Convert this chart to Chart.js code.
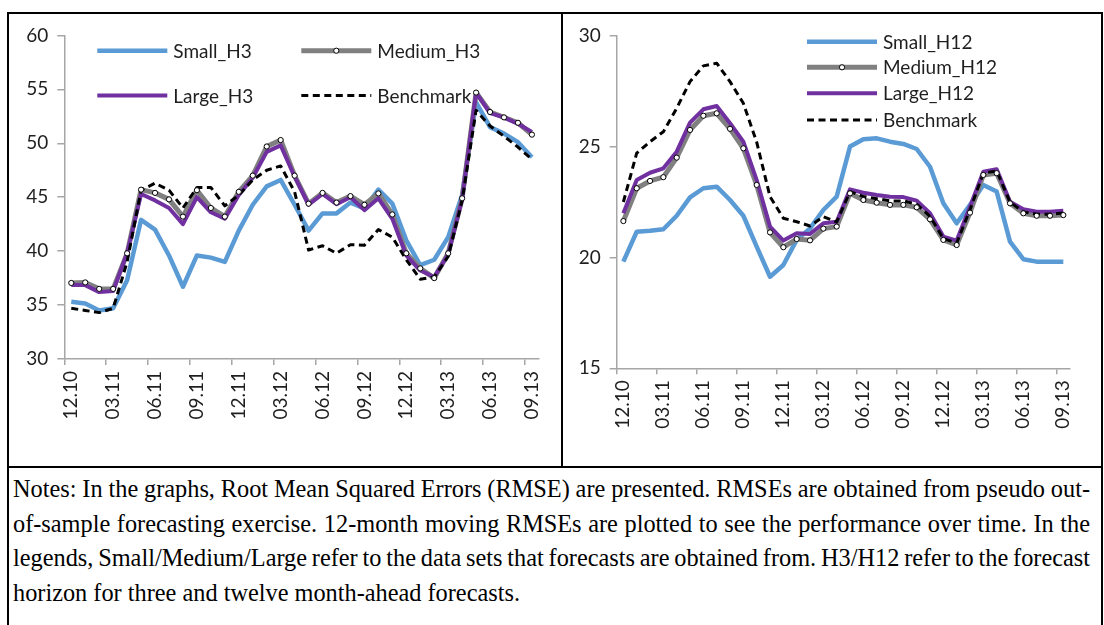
<!DOCTYPE html>
<html>
<head>
<meta charset="utf-8">
<title>RMSE over time</title>
<script src="https://cdn.jsdelivr.net/npm/chart.js@4.4.1/dist/chart.umd.min.js"></script>
<style>
  html, body { margin: 0; padding: 0; background: #fff; }
  #page { position: relative; width: 1104px; height: 625px; overflow: hidden; background: #fff; }
  .rule { position: absolute; background: #000; }
  canvas { position: absolute; }
  .note {
    position: absolute; left: 13px;
    font-family: 'Liberation Serif', 'Times New Roman', serif;
    font-size: 26px; line-height: 28px; white-space: nowrap; color: #000;
    transform-origin: 0 50%;
  }
</style>
</head>
<body>
<div id="page">
  <div class="rule" style="left:7px; top:12px; width:1096px; height:2px;"></div>
  <div class="rule" style="left:7px; top:12px; width:2px; height:613px;"></div>
  <div class="rule" style="left:561px; top:12px; width:2px; height:456px;"></div>
  <div class="rule" style="left:1101px; top:12px; width:2px; height:613px;"></div>
  <div class="rule" style="left:7px; top:466px; width:1096px; height:2px;"></div>
  <canvas id="chartH3" width="552" height="451" style="left:9px; top:15px;"></canvas>
  <canvas id="chartH12" width="536" height="451" style="left:564px; top:15px;"></canvas>
</div>
<script>
// months from Dec 2010 to Sep 2013
const months = ['12.10', '01.11', '02.11', '03.11', '04.11', '05.11', '06.11', '07.11', '08.11', '09.11',
  '10.11', '11.11', '12.11', '01.12', '02.12', '03.12', '04.12', '05.12', '06.12', '07.12', '08.12', '09.12',
  '10.12', '11.12', '12.12', '01.13', '02.13', '03.13', '04.13', '05.13', '06.13', '07.13', '08.13', '09.13'];

// 3-month-ahead RMSE
const smallH3 = [35.3, 35.15, 34.5, 34.7, 37.3, 42.9, 42.0, 39.6, 36.7, 39.6, 39.4, 39.0, 41.9, 44.3, 46.0, 46.6,
  44.3, 41.9, 43.5, 43.5, 44.5, 43.95, 45.7, 44.4, 41.0, 38.7, 39.2, 41.3, 45.2, 53.8, 51.5, 50.9, 50.1, 48.7];
const mediumH3 = [37.05, 37.1, 36.5, 36.5, 39.8, 45.7, 45.4, 44.8, 43.2, 45.65, 44.0, 43.2, 45.5, 47.0, 49.7, 50.3,
  47.0, 44.4, 45.4, 44.5, 45.1, 44.3, 45.35, 43.4, 39.8, 38.4, 37.5, 39.8, 44.9, 54.7, 52.9, 52.4, 51.9, 50.8];
const largeH3 = [36.85, 36.85, 36.2, 36.3, 39.8, 45.3, 44.7, 44.0, 42.5, 45.0, 43.6, 43.0, 45.2, 46.8, 49.2, 49.8,
  46.9, 44.3, 45.3, 44.35, 45.0, 43.8, 44.9, 43.0, 39.6, 38.2, 37.6, 39.7, 44.8, 54.7, 52.8, 52.4, 51.8, 51.05];
const benchH3 = [34.7, 34.5, 34.3, 34.7, 39.0, 45.65, 46.3, 45.65, 44.0, 45.9, 45.9, 44.2, 45.2, 46.6, 47.5, 47.9,
  45.5, 40.1, 40.5, 39.8, 40.6, 40.55, 42.0, 41.3, 39.2, 37.4, 37.6, 39.5, 44.7, 53.05, 51.6, 50.65, 49.65, 48.5];

// 12-month-ahead RMSE
const smallH12 = [19.81, 21.16, 21.2, 21.27, 21.88, 22.71, 23.12, 23.19, 22.59, 21.88, 20.49, 19.13, 19.66, 20.79,
  21.31, 22.14, 22.74, 25.0, 25.33, 25.37, 25.22, 25.12, 24.89, 24.09, 22.44, 21.54, 22.37, 23.27, 22.97, 20.71,
  19.92, 19.81, 19.81, 19.81];
const mediumH12 = [21.64, 23.12, 23.45, 23.62, 24.5, 25.75, 26.39, 26.5, 25.8, 24.92, 23.27, 21.13, 20.46, 20.83,
  20.77, 21.3, 21.39, 22.89, 22.59, 22.47, 22.37, 22.37, 22.26, 21.72, 20.79, 20.56, 22.02, 23.72, 23.8, 22.44,
  21.99, 21.88, 21.88, 21.91];
const largeH12 = [21.99, 23.49, 23.82, 24.02, 24.77, 26.08, 26.68, 26.83, 26.05, 25.22, 23.49, 21.39, 20.76, 21.09,
  21.06, 21.54, 21.61, 23.07, 22.92, 22.82, 22.74, 22.72, 22.56, 21.99, 20.94, 20.76, 22.29, 23.87, 23.98, 22.51,
  22.17, 22.06, 22.06, 22.11];
const benchH12 = [22.5, 24.7, 25.22, 25.67, 26.73, 27.93, 28.64, 28.76, 27.93, 26.95, 25.2, 22.74, 21.77, 21.61,
  21.42, 21.84, 21.6, 22.97, 22.75, 22.65, 22.55, 22.55, 22.4, 21.85, 20.85, 20.65, 22.15, 23.8, 23.9, 22.5,
  22.05, 21.95, 21.95, 22.0];

const h3Names = ['Small_H3', 'Medium_H3', 'Large_H3', 'Benchmark'];
const h12Names = ['Small_H12', 'Medium_H12', 'Large_H12', 'Benchmark'];

const noteLines = [
  'Notes: In the graphs, Root Mean Squared Errors (RMSE) are presented. RMSEs are obtained from pseudo out-',
  'of-sample forecasting exercise. 12-month moving RMSEs are plotted to see the performance over time. In the',
  'legends, Small/Medium/Large refer to the data sets that forecasts are obtained from. H3/H12 refer to the forecast',
  'horizon for three and twelve month-ahead forecasts.'
];

const axisGrey = '#a6a6a6';
const textColor = '#1f1f1f';
const tickFont = { family: 'Lato, "Open Sans", sans-serif', size: 19 };

// legend drawn inside the plot area, positions relative to chartArea
const legendBox = {
  id: 'legendBox',
  afterDraw(chart, args, o) {
    const { ctx, chartArea } = chart;
    o.items.forEach(item => {
      const ds = chart.data.datasets[item.dataset];
      const x0 = chartArea.left + item.x;
      const y = chartArea.top + item.y;
      ctx.save();
      ctx.strokeStyle = ds.borderColor;
      ctx.lineWidth = ds.borderWidth;
      ctx.setLineDash(ds.borderDash || []);
      ctx.beginPath();
      ctx.moveTo(x0, y);
      ctx.lineTo(x0 + o.lineLength, y);
      ctx.stroke();
      if (item.marker) {
        ctx.setLineDash([]);
        ctx.beginPath();
        ctx.arc(x0 + o.lineLength / 2, y, 2.6, 0, Math.PI * 2);
        ctx.fillStyle = '#fff';
        ctx.fill();
        ctx.lineWidth = 1;
        ctx.strokeStyle = '#000';
        ctx.stroke();
      }
      ctx.fillStyle = textColor;
      ctx.font = `${tickFont.size}px ${tickFont.family}`;
      ctx.textBaseline = 'middle';
      ctx.fillText(ds.label, x0 + o.lineLength + o.gap, y + 1);
      ctx.restore();
    });
  }
};

function makeChart(canvasId, names, series, yRange, frame, legendItems) {
  const [small, medium, large, bench] = series;
  return new Chart(document.getElementById(canvasId), {
    type: 'line',
    data: {
      labels: months,
      datasets: [
        { label: names[0], data: small, borderColor: '#5b9bd5', borderWidth: 4.5, pointRadius: 0, order: 5 },
        { label: names[1], data: medium, borderColor: '#808080', borderWidth: 5, pointRadius: 0, order: 4 },
        { label: names[2], data: large, borderColor: '#7030a0', borderWidth: 4, pointRadius: 0, order: 3 },
        { label: names[3], data: bench, borderColor: '#000', borderWidth: 3, borderDash: [7, 4.5],
          pointRadius: 0, order: 2 },
        // markers of the medium series sit above every line
        { label: names[1], data: medium, showLine: false, pointRadius: 2.6, pointBorderWidth: 1,
          pointBackgroundColor: '#fff', pointBorderColor: '#000', order: 1 }
      ]
    },
    options: {
      responsive: false,
      animation: false,
      layout: { padding: { top: frame.top, right: frame.right, left: 0, bottom: 0 } },
      elements: { line: { tension: 0, borderJoinStyle: 'round', borderCapStyle: 'butt' } },
      scales: {
        x: {
          type: 'category',
          offset: true,
          grid: {
            offset: true,
            drawOnChartArea: false,
            tickLength: 6,
            lineWidth: 1.5,
            color: c => (c.index % 3 === 0 ? axisGrey : 'rgba(0,0,0,0)')
          },
          border: { color: axisGrey, width: 1.5 },
          ticks: {
            autoSkip: false,
            minRotation: 90,
            maxRotation: 90,
            padding: 6,
            color: textColor,
            font: tickFont,
            callback: (v, i) => (i % 3 === 0 ? months[i] : '')
          },
          afterFit: s => { s.height = frame.xHeight; }
        },
        y: {
          min: yRange[0],
          max: yRange[1],
          grid: { drawOnChartArea: false, tickLength: 7, lineWidth: 1.5, color: axisGrey },
          border: { color: axisGrey, width: 1.5 },
          ticks: { stepSize: 5, padding: 9, color: textColor, font: tickFont },
          afterFit: s => { s.width = frame.yWidth; }
        }
      },
      plugins: {
        legend: { display: false },
        tooltip: { enabled: false },
        legendBox: { lineLength: 70, gap: 6, items: legendItems }
      }
    },
    plugins: [legendBox]
  });
}

makeChart('chartH3', h3Names, [smallH3, mediumH3, largeH3, benchH3], [30, 60],
  { top: 20, right: 18.5, xHeight: 107, yWidth: 55.3 },
  [
    { dataset: 0, x: 33, y: 15.3 },
    { dataset: 1, x: 237, y: 15.3, marker: true },
    { dataset: 2, x: 33, y: 60 },
    { dataset: 3, x: 237, y: 60 }
  ]);

makeChart('chartH12', h12Names, [smallH12, mediumH12, largeH12, benchH12], [15, 30],
  { top: 20.7, right: 30, xHeight: 97.7, yWidth: 52.7 },
  [
    { dataset: 0, x: 190.3, y: 6 },
    { dataset: 1, x: 190.3, y: 31.6, marker: true },
    { dataset: 2, x: 190.3, y: 57.6 },
    { dataset: 3, x: 190.3, y: 84.3 }
  ]);

// notes under the charts: one scale for all lines, first lines justified to the right rule
(function drawNotes() {
  const page = document.getElementById('page');
  const left = 13, right = 1090, lastWidth = 507;
  const els = noteLines.map((text, i) => {
    const el = document.createElement('div');
    el.className = 'note';
    el.textContent = text;
    el.style.top = (475 + i * 34.7) + 'px';
    page.appendChild(el);
    return el;
  });
  const sx = lastWidth / els[els.length - 1].getBoundingClientRect().width;
  els.forEach((el, i) => {
    if (i < els.length - 1) {
      const natural = el.getBoundingClientRect().width;
      const gaps = noteLines[i].split(' ').length - 1;
      el.style.wordSpacing = (((right - left) / sx - natural) / gaps) + 'px';
    }
    el.style.transform = `scaleX(${sx})`;
  });
})();
</script>
</body>
</html>
